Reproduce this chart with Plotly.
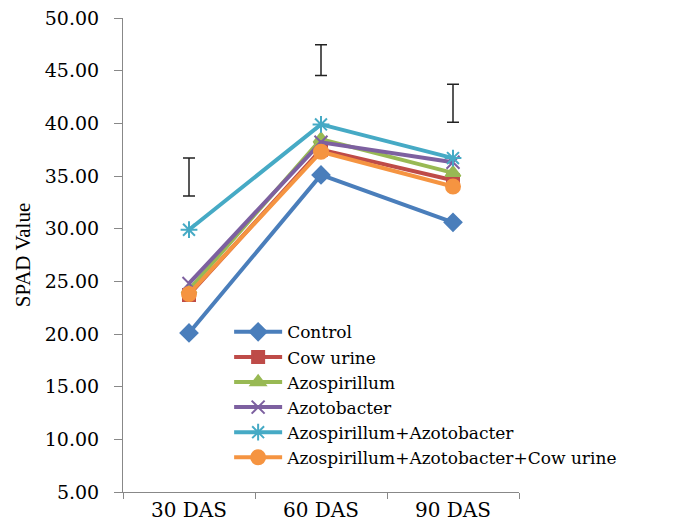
import plotly.graph_objects as go

categories = ["30 DAS", "60 DAS", "90 DAS"]
control = [20.1, 35.1, 30.6]
cow_urine = [23.7, 37.5, 34.6]
azospirillum = [24.2, 38.5, 35.3]
azotobacter = [24.8, 38.2, 36.3]
azo_azoto = [29.9, 39.9, 36.7]
azo_azoto_cow = [23.8, 37.3, 34.0]
cd_center = [34.9, 46.0, 41.9]
cd_half = [1.8, 1.45, 1.8]
y_ticks = [5, 10, 15, 20, 25, 30, 35, 40, 45, 50]
y_tick_labels = ["%.2f" % v for v in y_ticks]

series = [
    ("Control", control, "#4A7EBB", "diamond", 13),
    ("Cow urine", cow_urine, "#BE4B48", "square", 12),
    ("Azospirillum", azospirillum, "#98B954", "triangle-up", 13),
    ("Azotobacter", azotobacter, "#7D60A0", "x-thin-open", 13),
    ("Azospirillum+Azotobacter", azo_azoto, "#46AAC5", "asterisk-open", 14),
    ("Azospirillum+Azotobacter+Cow urine", azo_azoto_cow, "#F59441", "circle", 14),
]

fig = go.Figure()
for name, vals, color, sym, size in series:
    fig.add_trace(go.Scatter(
        x=categories, y=vals, name=name, mode="lines+markers",
        line=dict(color=color, width=4),
        marker=dict(symbol=sym, size=size, color=color,
                    line=dict(color=color, width=2)),
    ))

fig.add_trace(go.Scatter(
    x=categories, y=cd_center, mode="markers", showlegend=False,
    marker=dict(size=1, color="rgba(0,0,0,0)"),
    error_y=dict(type="data", array=cd_half, visible=True,
                 color="#222222", thickness=1.5, width=6),
))

wide_serif = "DejaVu Serif"
times = "Liberation Serif"
# page body has an 8px margin, so the figure is offset by (8, 8)
fig.update_layout(
    width=684, height=522,
    margin=dict(l=115, r=173, t=10, b=38),
    paper_bgcolor="white", plot_bgcolor="white",
    font=dict(family=wide_serif, size=18, color="black"),
    legend=dict(x=0.268, y=0.375, xanchor="left", yanchor="top",
                bgcolor="rgba(0,0,0,0)", font=dict(family=wide_serif, size=17),
                tracegroupgap=0, itemwidth=48),
    xaxis=dict(
        type="category", range=[-0.5, 2.5], showgrid=False, automargin=False,
        showline=True, linecolor="#888888", linewidth=1,
        ticks="outside", tickson="boundaries", ticklen=6, tickcolor="#888888",
        tickfont=dict(family=wide_serif, size=20),
    ),
    yaxis=dict(
        range=[5, 50], tickvals=y_ticks, ticktext=y_tick_labels,
        showgrid=False, zeroline=False, automargin=False,
        showline=True, linecolor="#888888", linewidth=1,
        ticks="outside", ticklen=8, tickcolor="#888888",
        ticklabelstandoff=11, ticklabeloverflow="allow",
        tickfont=dict(family=wide_serif, size=19),
        title=dict(text="SPAD Value", font=dict(family=times, size=21), standoff=8),
    ),
)

fig.write_html("out.html")
